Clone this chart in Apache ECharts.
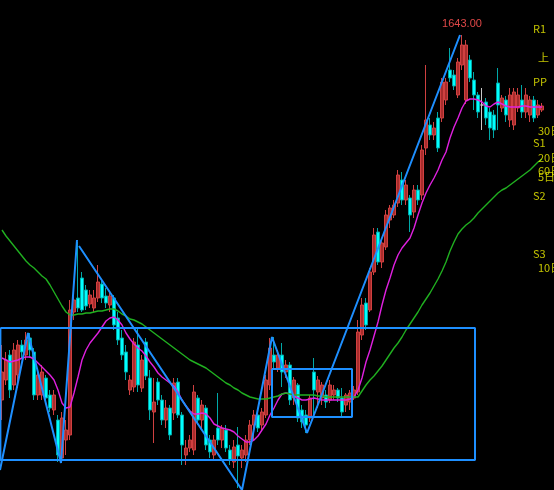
<!DOCTYPE html>
<html>
<head>
<meta charset="utf-8">
<script src="https://cdn.jsdelivr.net/npm/echarts@6/dist/echarts.min.js"></script>
<style>
html,body{margin:0;padding:0;background:#000;}
#chart{width:554px;height:490px;}
</style>
</head>
<body>
<div id="chart"></div>
<script>
// ---- data (open, close, low, high) ----
const ohlc = [
[1278,1306,1258,1333],[1298,1318,1293,1326],[1323,1288,1280,1328],[1293,1328,1288,1335],[1303,1333,1290,1338],
[1333,1326,1320,1338],[1323,1338,1318,1346],[1340,1328,1320,1345],[1326,1283,1278,1330],[1283,1303,1278,1310],
[1283,1306,1278,1313],[1300,1280,1276,1303],[1283,1270,1266,1288],[1268,1283,1263,1288],[1258,1223,1216,1263],
[1220,1260,1216,1266],[1238,1248,1223,1258],[1243,1368,1238,1378],[1366,1378,1358,1388],[1380,1370,1366,1436],
[1400,1368,1366,1406],[1388,1372,1368,1393],[1374,1383,1370,1388],[1370,1380,1366,1388],[1380,1396,1376,1413],
[1394,1380,1375,1398],[1382,1375,1370,1390],[1373,1382,1366,1386],[1380,1353,1348,1383],[1360,1338,1333,1366],
[1340,1323,1318,1348],[1326,1306,1298,1333],[1288,1298,1283,1303],[1291,1336,1286,1340],[1333,1293,1286,1351],
[1290,1318,1286,1323],[1336,1302,1298,1340],[1300,1268,1258,1308],[1266,1276,1235,1300],[1296,1278,1273,1300],
[1278,1258,1253,1283],[1258,1270,1250,1278],[1270,1243,1238,1273],[1265,1295,1258,1300],[1296,1263,1260,1300],
[1263,1233,1213,1266],[1223,1230,1213,1238],[1230,1238,1226,1243],[1228,1286,1223,1293],[1280,1258,1253,1283],
[1258,1273,1248,1278],[1270,1233,1228,1273],[1238,1226,1220,1243],[1223,1238,1218,1243],[1250,1238,1233,1285],
[1238,1250,1230,1253],[1248,1230,1226,1253],[1228,1218,1213,1233],[1216,1231,1210,1238],[1233,1222,1190,1251],
[1220,1228,1210,1233],[1223,1238,1216,1243],[1238,1253,1233,1258],[1253,1263,1238,1268],[1263,1250,1246,1268],
[1253,1266,1248,1270],[1263,1298,1260,1303],[1293,1330,1288,1340],[1323,1316,1310,1341],[1310,1323,1306,1328],
[1323,1306,1291,1335],[1306,1313,1300,1318],[1313,1278,1273,1316],[1280,1298,1273,1301],[1293,1260,1256,1295],
[1268,1256,1250,1273],[1263,1253,1245,1268],[1260,1280,1256,1283],[1306,1288,1261,1320],[1286,1298,1270,1302],
[1280,1293,1273,1296],[1283,1276,1270,1288],[1278,1293,1275,1298],[1283,1288,1278,1293],[1288,1280,1276,1290],
[1280,1266,1261,1290],[1273,1283,1266,1285],[1276,1285,1268,1288],[1280,1288,1278,1292],[1286,1346,1283,1358],
[1343,1373,1338,1380],[1375,1353,1348,1380],[1368,1406,1366,1410],[1406,1443,1403,1450],[1446,1416,1413,1450],
[1416,1435,1410,1440],[1431,1463,1428,1468],[1458,1470,1450,1473],[1463,1473,1460,1478],[1475,1503,1471,1508],
[1498,1478,1473,1506],[1478,1493,1473,1498],[1480,1463,1446,1483],[1466,1488,1460,1493],[1488,1478,1473,1493],
[1483,1528,1478,1533],[1530,1558,1523,1613],[1553,1543,1538,1560],[1543,1550,1538,1556],[1560,1530,1526,1566],
[1560,1596,1556,1600],[1578,1596,1573,1600],[1608,1600,1596,1630],[1603,1592,1588,1608],[1583,1616,1580,1620],
[1613,1633,1608,1643],[1578,1633,1574,1638],[1618,1600,1596,1623],[1598,1583,1568,1606],[1583,1566,1560,1586],
[1573,1573,1548,1590],[1576,1560,1553,1580],[1566,1550,1538,1570],[1563,1548,1540,1568],[1595,1573,1548,1610],
[1570,1580,1566,1583],[1578,1563,1556,1582],[1558,1583,1551,1590],[1553,1586,1548,1590],[1570,1583,1566,1590],
[1578,1566,1560,1593],[1566,1583,1560,1590],[1563,1578,1556,1582],[1578,1560,1556,1582],[1563,1573,1560,1578],
[1568,1572,1566,1575]
];
const ma10 = [
1320,1318,1316,1317,1318,1320,1321,1321,1319,1315,1311,1307,1303,1298,1288,1275,1270,1271,1285,1301,
1318,1328,1335,1340,1345,1351,1357,1360,1361,1358,1353,1345,1339,1334,1330,1327,1322,1316,1311,1305,
1301,1298,1295,1292,1286,1278,1272,1267,1264,1264,1265,1264,1260,1254,1252,1250,1249,1248,1246,1242,
1239,1236,1236,1238,1242,1248,1254,1263,1270,1278,1284,1285,1284,1282,1280,1278,1278,1279,1280,1279,
1278,1278,1278,1278,1278,1278,1278,1279,1281,1288,1300,1316,1328,1342,1356,1373,1388,1400,1413,1423,
1430,1435,1440,1450,1463,1475,1485,1493,1500,1508,1518,1526,1540,1551,1560,1570,1577,1579,1579,1578,
1576,1572,1571,1574,1576,1574,1572,1571,1571,1571,1572,1572,1571,1571,1571,1571
];
const ma60 = [
1448,1442,1437,1432,1427,1422,1417,1413,1410,1406,1402,1399,1393,1386,1379,1372,1366,1363,1363,1364,
1364,1365,1365,1366,1367,1367,1368,1369,1369,1367,1364,1362,1359,1358,1356,1354,1351,1348,1345,1342,
1339,1336,1333,1330,1327,1324,1321,1318,1316,1314,1312,1310,1307,1304,1301,1298,1295,1293,1290,1288,
1285,1283,1281,1280,1279,1279,1279,1280,1281,1282,1284,1285,1284,1283,1283,1283,1283,1283,1283,1282,
1282,1281,1281,1281,1281,1281,1281,1281,1281,1281,1287,1293,1298,1302,1307,1312,1318,1324,1330,1335,
1341,1348,1354,1360,1366,1373,1379,1385,1392,1399,1407,1416,1427,1436,1444,1449,1453,1456,1460,1465,
1469,1473,1477,1481,1485,1488,1490,1493,1496,1499,1502,1505,1508,1512,1516,1519
];
// zigzag pivots: [candle index, price]
const zigzagA = [[-0.5,1208],[6.5,1345],[14.75,1215],[18.75,1438]];
const zigzagB = [[19.25,1432],[60,1188],[67.5,1341],[76.25,1245],[114.5,1643]];
// boxes: [fromIndex, toIndex, topPrice, bottomPrice]
const boxes = [[-0.4,118.25,1350,1218],[67.5,87.5,1309,1261]];
// right-side level labels
const levelNames = ['R1','上','PP','30日','S1','20日','60日','5日','S2','S3','10日'];
const levelPrices = [1649,1620,1596,1547,1535,1520,1507,1501,1482,1424,1410];

const N = ohlc.length;
const categories = ohlc.map((_, i) => String(i + 1));

const candleData = ohlc.map(d => d[0] === d[1]
  ? {value: d, itemStyle: {color: '#c8c8c8', borderColor: '#c8c8c8', color0: '#c8c8c8', borderColor0: '#c8c8c8'}}
  : d);

const boxSeries = boxes.map(b => ({
  type: 'line', xAxisIndex: 1, yAxisIndex: 0, symbol: 'none', silent: true, z: 6,
  lineStyle: {color: '#1e8fff', width: 2},
  data: [[b[0], b[2]], [b[1], b[2]], [b[1], b[3]], [b[0], b[3]], [b[0], b[2]]]
}));

const labelData = levelNames.map((n, i) => {
  const indent = /日|上/.test(n) ? 134.0 : 132.75;
  return {value: [indent, levelPrices[i]], name: n};
});

const chart = echarts.init(document.getElementById('chart'));
chart.setOption({
  backgroundColor: '#000000',
  animation: false,
  grid: {left: 0, right: 10, top: 0, bottom: 0},
  xAxis: [
    {type: 'category', data: categories, show: false, boundaryGap: true},
    {type: 'value', min: -0.5, max: N - 0.5, show: false}
  ],
  yAxis: [{type: 'value', min: 1188, max: 1678, show: false, scale: true}],
  series: [
    {
      type: 'candlestick', data: candleData, barWidth: 3, z: 2,
      itemStyle: {color: '#a82c2c', borderColor: '#d04040', color0: '#00ffff', borderColor0: '#00a8a8', borderWidth: 1},
      markPoint: {
        symbol: 'circle', symbolSize: 0,
        label: {show: true, position: 'top', distance: 6, color: '#e04848', fontSize: 11,
          fontFamily: 'Liberation Sans',
          formatter: p => Number(p.value).toFixed(2)},
        data: [{type: 'max', valueDim: 'highest'}]
      }
    },
    {type: 'line', data: ma10, symbol: 'none', z: 4, lineStyle: {color: '#e020e0', width: 1.4}},
    {type: 'line', data: ma60, symbol: 'none', z: 4, lineStyle: {color: '#20b020', width: 1.4}},
    {type: 'line', xAxisIndex: 1, data: zigzagA, symbol: 'none', z: 6, lineStyle: {color: '#1e8fff', width: 2}},
    {type: 'line', xAxisIndex: 1, data: zigzagB, symbol: 'none', z: 6, lineStyle: {color: '#1e8fff', width: 2}},
    ...boxSeries,
    {
      type: 'scatter', xAxisIndex: 1, symbolSize: 0, z: 8, silent: true,
      data: labelData,
      label: {show: true, position: 'right', distance: 0, color: '#f0f000', fontSize: 11,
        fontFamily: 'Noto Sans CJK SC', formatter: p => p.name}
    }
  ]
});
</script>
</body>
</html>
